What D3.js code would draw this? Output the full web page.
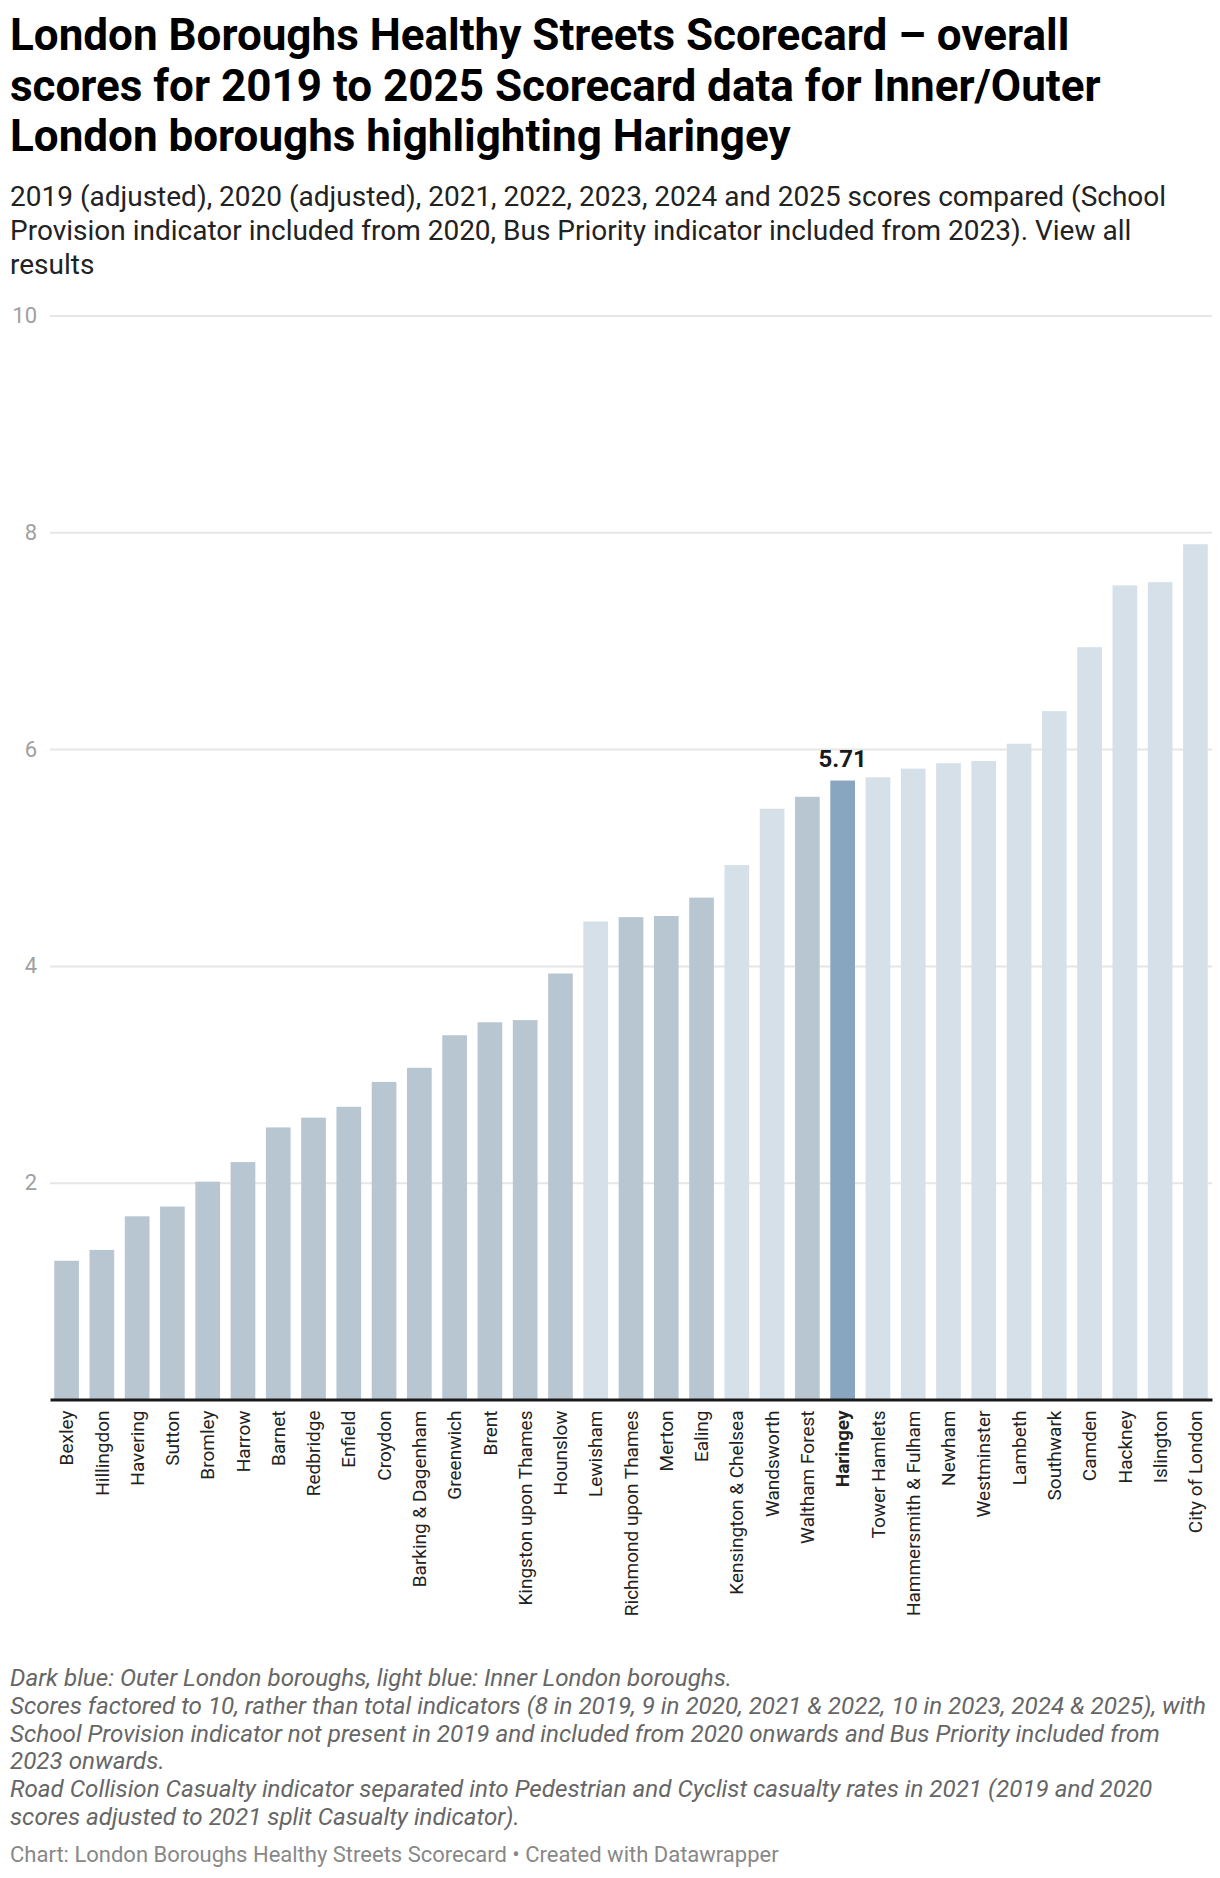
<!DOCTYPE html>
<html>
<head>
<meta charset="utf-8">
<script src="https://cdn.jsdelivr.net/npm/d3@7"></script>
<style>
  body { margin: 0; background: #fff; }
  text { font-family: Roboto, "Noto Sans", sans-serif; }
</style>
</head>
<body>
<div id="chart"></div>
<script>
// data
var boroughs = ["Bexley", "Hillingdon", "Havering", "Sutton", "Bromley", "Harrow", "Barnet",
  "Redbridge", "Enfield", "Croydon", "Barking & Dagenham", "Greenwich", "Brent",
  "Kingston upon Thames", "Hounslow", "Lewisham", "Richmond upon Thames", "Merton", "Ealing",
  "Kensington & Chelsea", "Wandsworth", "Waltham Forest", "Haringey", "Tower Hamlets",
  "Hammersmith & Fulham", "Newham", "Westminster", "Lambeth", "Southwark", "Camden",
  "Hackney", "Islington", "City of London"];
var scores = [1.28, 1.38, 1.69, 1.78, 2.01, 2.19, 2.51, 2.6, 2.7, 2.93, 3.06, 3.36, 3.48,
  3.5, 3.93, 4.41, 4.45, 4.46, 4.63, 4.93, 5.45, 5.56, 5.71, 5.74, 5.82, 5.87, 5.89, 6.05,
  6.35, 6.94, 7.51, 7.54, 7.89];
var groups = ["outer", "outer", "outer", "outer", "outer", "outer", "outer", "outer", "outer",
  "outer", "outer", "outer", "outer", "outer", "outer", "inner", "outer", "outer", "outer",
  "inner", "inner", "outer", "highlight", "inner", "inner", "inner", "inner", "inner",
  "inner", "inner", "inner", "inner", "inner"];
var yTicks = [2, 4, 6, 8, 10];
var highlightName = "Haringey";

var titleLines = ["London Boroughs Healthy Streets Scorecard \u2013 overall",
  "scores for 2019 to 2025 Scorecard data for Inner/Outer",
  "London boroughs highlighting Haringey"];
var subtitleLines = ["2019 (adjusted), 2020 (adjusted), 2021, 2022, 2023, 2024 and 2025 scores compared (School",
  "Provision indicator included from 2020, Bus Priority indicator included from 2023). View all",
  "results"];
var noteLines = ["Dark blue: Outer London boroughs, light blue: Inner London boroughs.",
  "Scores factored to 10, rather than total indicators (8 in 2019, 9 in 2020, 2021 & 2022, 10 in 2023, 2024 & 2025), with",
  "School Provision indicator not present in 2019 and included from 2020 onwards and Bus Priority included from",
  "2023 onwards.",
  "Road Collision Casualty indicator separated into Pedestrian and Cyclist casualty rates in 2021 (2019 and 2020",
  "scores adjusted to 2021 split Casualty indicator)."];
var footer = "Chart: London Boroughs Healthy Streets Scorecard \u2022 Created with Datawrapper";

var colors = {outer: "#b8c6d2", inner: "#d5e0e9", highlight: "#88a6c0"};

var width = 1220, height = 1878;
var plot = {left: 50, right: 1212, top: 315.5, bottom: 1399.5};

var svg = d3.select("#chart").append("svg")
  .attr("width", width)
  .attr("height", height);

// header
svg.append("g").selectAll("text")
  .data(titleLines).enter().append("text")
  .attr("x", 10)
  .attr("y", function(d, i) { return 50 + i * 50.5; })
  .style("font-size", "44px")
  .style("font-weight", "bold")
  .style("fill", "#000")
  .text(function(d) { return d; });

svg.append("g").selectAll("text")
  .data(subtitleLines).enter().append("text")
  .attr("x", 10)
  .attr("y", function(d, i) { return 206 + i * 34; })
  .style("font-size", "28px")
  .style("fill", "#222")
  .text(function(d) { return d; });

var data = boroughs.map(function(b, i) {
  return {name: b, score: scores[i], group: groups[i]};
});

var x = d3.scaleBand()
  .domain(boroughs)
  .range([plot.left, plot.right])
  .paddingInner(0.3)
  .paddingOuter(0.12);

var y = d3.scaleLinear()
  .domain([0, 10])
  .range([plot.bottom, plot.top]);

// gridlines + y labels
var grid = svg.append("g")
  .attr("transform", "translate(" + plot.left + ",0)")
  .call(d3.axisLeft(y).tickValues(yTicks).tickSize(-(plot.right - plot.left)).tickPadding(13));
grid.select(".domain").remove();
grid.selectAll(".tick line").attr("stroke", "#e6e6e6").attr("stroke-width", 2);
grid.selectAll(".tick text")
  .style("font-size", "22px")
  .style("font-family", "Roboto")
  .style("fill", "#a0a0a0");

// bars
svg.append("g").selectAll("rect")
  .data(data).enter().append("rect")
  .attr("x", function(d) { return x(d.name); })
  .attr("y", function(d) { return y(d.score); })
  .attr("width", x.bandwidth())
  .attr("height", function(d) { return y(0) - y(d.score); })
  .attr("fill", function(d) { return colors[d.group]; });

// value label for the highlighted borough
var hl = data.filter(function(d) { return d.name == highlightName; })[0];
svg.append("text")
  .attr("x", x(hl.name) + x.bandwidth() / 2)
  .attr("y", y(hl.score) - 14)
  .style("text-anchor", "middle")
  .style("font-size", "24px")
  .style("font-weight", "bold")
  .style("fill", "#1a1a1a")
  .text(d3.format(".2f")(hl.score));

// baseline + x labels
var xAxis = svg.append("g")
  .attr("transform", "translate(0," + plot.bottom + ")")
  .call(d3.axisBottom(x).tickSize(0).tickPadding(0));
xAxis.select(".domain").attr("stroke", "#1a1a1a").attr("stroke-width", 3);
xAxis.selectAll(".tick text")
  .attr("transform", "rotate(-90)")
  .attr("x", -11)
  .attr("y", 0)
  .attr("dy", "0.35em")
  .style("text-anchor", "end")
  .style("font-size", "19px")
  .style("font-family", "Roboto")
  .style("fill", "#222")
  .style("font-weight", function(d) { return d == highlightName ? "bold" : "normal"; });

// notes
svg.append("g").selectAll("text")
  .data(noteLines).enter().append("text")
  .attr("x", 10)
  .attr("y", function(d, i) { return 1686 + i * 27.8; })
  .style("font-size", "24.2px")
  .style("font-style", "italic")
  .style("fill", "#666")
  .text(function(d) { return d; });

svg.append("text")
  .attr("x", 10)
  .attr("y", 1862)
  .style("font-size", "22px")
  .style("fill", "#888")
  .text(footer);
</script>
</body>
</html>
